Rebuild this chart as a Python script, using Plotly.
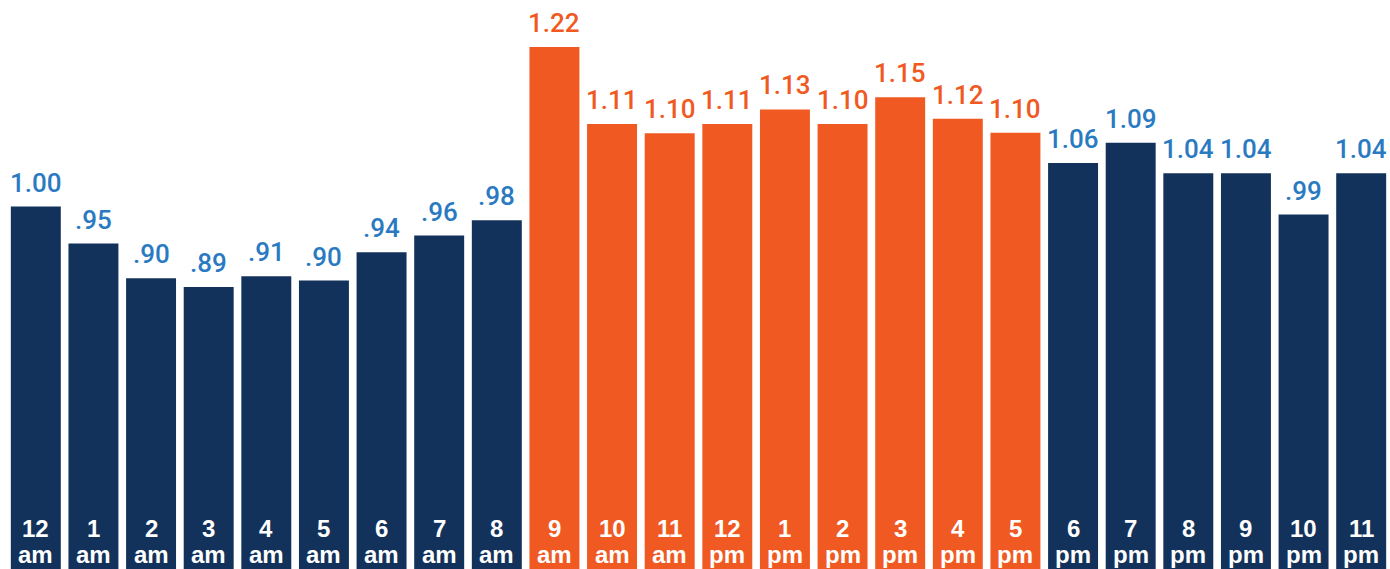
import plotly.graph_objects as go

hours = ["12", "1", "2", "3", "4", "5", "6", "7", "8", "9", "10", "11",
         "12", "1", "2", "3", "4", "5", "6", "7", "8", "9", "10", "11"]
periods = ["am"] * 12 + ["pm"] * 12
# bar heights (labels show the rounded figures)
values = [1.000, 0.949, 0.901, 0.889, 0.904, 0.898, 0.937, 0.960, 0.981, 1.220, 1.114, 1.101,
          1.114, 1.134, 1.114, 1.151, 1.121, 1.102, 1.060, 1.088, 1.046, 1.046, 0.989, 1.046]
value_labels = ["1.00", ".95", ".90", ".89", ".91", ".90", ".94", ".96", ".98", "1.22", "1.11", "1.10",
                "1.11", "1.13", "1.10", "1.15", "1.12", "1.10", "1.06", "1.09", "1.04", "1.04", ".99", "1.04"]
highlight = [False] * 9 + [True] * 9 + [False] * 6

NAVY = "#13325B"
ORANGE = "#F05A22"
BLUE = "#2A7AC2"

cats = [f"{h} {p} #{i}" for i, (h, p) in enumerate(zip(hours, periods))]
bar_colors = [ORANGE if h else NAVY for h in highlight]
text_colors = [ORANGE if h else BLUE for h in highlight]

fig = go.Figure()
fig.add_trace(go.Bar(
    x=cats, y=values, marker=dict(color=bar_colors, line=dict(width=0)),
    hoverinfo="skip",
))

annotations = []
for c, v, lab, tc in zip(cats, values, value_labels, text_colors):
    annotations.append(dict(
        x=c, y=v, xref="x", yref="y", text=lab, showarrow=False,
        yanchor="bottom", yshift=7,
        font=dict(family="Roboto, Liberation Sans, Arial, sans-serif", size=26, color=tc, weight=500),
    ))
for c, h, p in zip(cats, hours, periods):
    annotations.append(dict(
        x=c, y=0, xref="x", yref="paper", text=f"<b>{h}</b>", showarrow=False,
        yanchor="bottom", yshift=25,
        font=dict(family="Liberation Sans, Arial, sans-serif", size=24, color="white"),
    ))
    annotations.append(dict(
        x=c, y=0, xref="x", yref="paper", text=f"<b>{p}</b>", showarrow=False,
        yanchor="bottom", yshift=-1,
        font=dict(family="Liberation Sans, Arial, sans-serif", size=24, color="white"),
    ))

fig.update_layout(
    width=1390, height=569,
    margin=dict(l=7, r=0, t=0, b=0),
    paper_bgcolor="white", plot_bgcolor="white",
    bargap=0.133,
    showlegend=False,
    hovermode=False,
    annotations=annotations,
    xaxis=dict(visible=False, range=[-0.5, 23.5], fixedrange=True),
    yaxis=dict(visible=False, range=[0.5, 1.285], fixedrange=True),
)

fig.write_html("out.html", config={"displayModeBar": False},
               post_script="document.body.style.margin='0';document.body.style.overflow='hidden';")
